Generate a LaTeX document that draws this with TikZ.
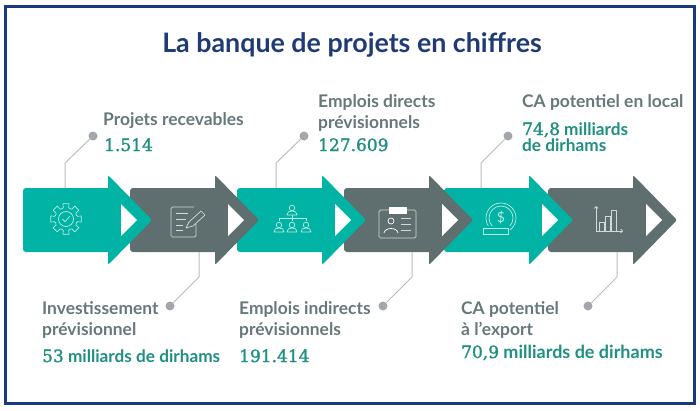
\documentclass[tikz,border=0pt]{standalone}
\usepackage{fontspec}
\setmainfont{Lato}
\newfontfamily\chiffres[RawFeature={embolden=1.6}]{DejaVu Serif}
\usetikzlibrary{positioning,arrows.meta}

\definecolor{cadre}{HTML}{17397F}
\definecolor{titre}{HTML}{1F3A75}
\definecolor{armteal}{HTML}{00B3A4}
\definecolor{armgris}{HTML}{5F6F6F}
\definecolor{texgris}{HTML}{66787A}
\definecolor{texvert}{HTML}{1E8F80}
\definecolor{lien}{HTML}{B9BDBF}
\definecolor{point}{HTML}{A3A7AB}
\definecolor{icoteal}{HTML}{BDE9E3}
\definecolor{icogris}{HTML}{D3DADA}

\tikzset{
  armbody/.style={rectangle,rounded corners=3pt,minimum width=90pt,minimum height=64pt,inner sep=0pt},
  dot/.style={circle,fill=point,minimum size=9pt,inner sep=0pt},
  link/.style={draw=lien,line width=1pt},
  label/.style={anchor=base west,inner sep=0pt,text=texgris,font=\fontsize{17.4}{20}\selectfont\bfseries},
  value/.style={anchor=base west,inner sep=0pt,text=texvert,font=\fontsize{17.2}{20}\selectfont\bfseries},
  icon/.style={line width=0.7pt,line join=round}
}

% digits of a value
\newcommand{\digs}[1]{{\chiffres\mdseries\fontsize{17}{18}\selectfont #1}}
% small person for the icons
\newcommand{\persona}[3]{
  \draw[icon,#3] (#1,#2) circle (2.8pt);
  \draw[icon,#3] (#1-5,#2+7) .. controls (#1-5,#2+4) and (#1-3,#2+3) .. (#1,#2+3)
    .. controls (#1+3,#2+3) and (#1+5,#2+4) .. (#1+5,#2+7) -- cycle;
}

\begin{document}
\begin{tikzpicture}[x=1pt,y=-1pt]
  \useasboundingbox (0,0) rectangle (700,410);
  \draw[cadre,line width=3pt] (5,6) rectangle (694.5,403.5);

  \node[text=titre,font=\fontsize{26.8}{30}\selectfont\bfseries] (titre) at (352,45) {La banque de projets en chiffres};

  % arrows, last one first
  \foreach \nm/\xl/\col in {F/548/armgris,E/444/armteal,D/344/armgris,C/237/armteal,B/130/armgris,A/23/armteal}{
    \node[armbody,fill=\col] (body\nm) at (\xl+45,220) {};
    \fill[\col,rounded corners=2pt] (\xl+85,175) -- (\xl+129,220) -- (\xl+85,265) -- cycle;
    \fill[white] (\xl+98,204) -- (\xl+114,220) -- (\xl+98,236) -- cycle;
  }

  % dots
  \node[dot] (dotA) at (93,136) {};
  \node[dot] (dotB) at (170,306) {};
  \node[dot] (dotC) at (304,136) {};
  \node[dot] (dotD) at (383,306) {};
  \node[dot] (dotE) at (508,136) {};
  \node[dot] (dotF) at (588,306) {};

  \coordinate (kneeA) at (65,163);
  \coordinate (kneeB) at (199,277);
  \coordinate (kneeC) at (276,163);
  \coordinate (kneeD) at (412,277);
  \coordinate (kneeE) at (481,163);
  \coordinate (kneeF) at (617,277);

  \draw[link] (dotA) -- (kneeA) -- (kneeA |- bodyA.north);
  \draw[link] (dotB) -- (kneeB) -- (kneeB |- bodyB.south);
  \draw[link] (dotC) -- (kneeC) -- (kneeC |- bodyC.north);
  \draw[link] (dotD) -- (kneeD) -- (kneeD |- bodyD.south);
  \draw[link] (dotE) -- (kneeE) -- (kneeE |- bodyE.north);
  \draw[link] (dotF) -- (kneeF) -- (kneeF |- bodyF.south);

  % gear
  \begin{scope}[shift={(66,219)}]
    \foreach \a in {0,45,...,315}
      \draw[icon,icoteal] (\a-22.5:11) -- (\a-14:11.5) -- (\a-11:15.5) -- (\a+11:15.5) -- (\a+14:11.5) -- (\a+22.5:11);
    \draw[icon,icoteal] (0,0) circle (7.5pt);
    \draw[icon,icoteal] (-3.5,0) -- (-1,2.8) -- (3.8,-2.8);
  \end{scope}

  % form and pencil
  \draw[icon,icogris,rounded corners=1.5pt] (194,207) -- (171,207) -- (171,237) -- (196,237) -- (196,224);
  \foreach \yy/\xx in {213/188,219/186,225/183,230/183}
    \draw[icon,icogris] (176,\yy) -- (\xx,\yy);
  \draw[icon,icogris] (201,211) -- (205,215) -- (193,226) -- (186,228) -- (189,222) -- cycle;

  % org chart
  \persona{292}{208}{icoteal}
  \persona{279}{225}{icoteal}
  \persona{292}{225}{icoteal}
  \persona{306}{225}{icoteal}
  \draw[icon,icoteal] (292,215) -- (292,221) (279,218) -- (306,218) (279,218) -- (279,221) (306,218) -- (306,221);

  % badge
  \draw[icon,icogris,rounded corners=1.5pt] (379,210) rectangle (416,238);
  \fill[white] (389,207) rectangle (407,214);
  \draw[icon,white] (391,221) circle (3pt);
  \draw[icon,white] (384,233) .. controls (385,227) and (397,227) .. (398,233);
  \foreach \yy in {218,224,230}
    \draw[icon,icogris,line width=1pt] (401,\yy) -- (411,\yy);

  % coin
  \draw[icon,icoteal] (501,218) circle (15pt);
  \draw[icon,icoteal] (501,218) circle (12pt);
  \node[text=icoteal,inner sep=0pt,font=\fontsize{14}{14}\selectfont] (dollar) at (501,218) {\$};
  \fill[armteal] (482,226) rectangle (510,236);
  \draw[icon,icoteal] (483,228) rectangle (508,234);

  % bar chart
  \draw[icon,icogris,-{Straight Barb[length=2pt]}] (596,231) -- (623,231);
  \draw[icon,icogris,-{Straight Barb[length=2pt]}] (596,231) -- (596,206);
  \draw[icon,icogris] (599,231) -- (599,222) -- (604,222) -- (604,231);
  \draw[icon,icogris] (605,231) -- (605,216) -- (610,216) -- (610,231);
  \draw[icon,icogris] (611,231) -- (611,210) -- (616,210) -- (616,231);

  % texts above
  \node[label] (labA) at (103,125) {Projets recevables};
  \node[value] (valA) at (104,151) {\digs{1.514}};
  \node[label] (labCa) at (318,107) {Emplois directs};
  \node[label] (labCb) at (318,128) {prévisionnels};
  \node[value] (valC) at (318,151) {\digs{127.609}};
  \node[label] (labE) at (522,107) {CA potentiel en local};
  \node[value] (valEa) at (522,135) {\digs{74,8} milliards};
  \node[value] (valEb) at (522,151) {de dirhams};

  % texts below
  \node[label] (labBa) at (42,314) {Investissement};
  \node[label] (labBb) at (42,335) {prévisionnel};
  \node[value] (valB) at (42,362) {\digs{53} milliards de dirhams};
  \node[label] (labDa) at (239,314) {Emplois indirects};
  \node[label] (labDb) at (239,335) {prévisionnels};
  \node[value] (valD) at (239,362) {\digs{191.414}};
  \node[label] (labFa) at (461,314) {CA potentiel};
  \node[label] (labFb) at (461,335) {à l’export};
  \node[value,font=\fontsize{18}{20}\selectfont\bfseries] (valF) at (461,358) {\digs{70,9} milliards de dirhams};
\end{tikzpicture}
\end{document}
